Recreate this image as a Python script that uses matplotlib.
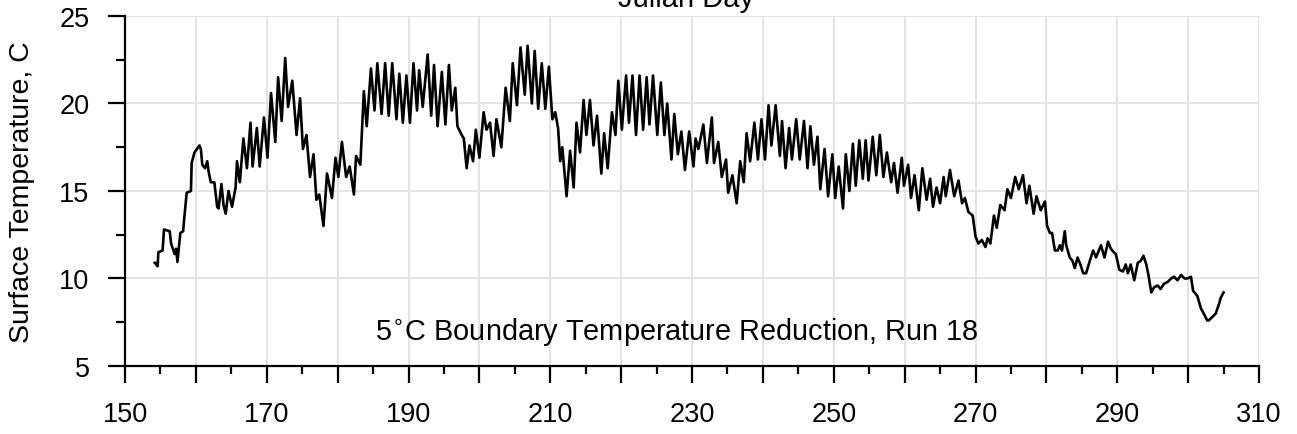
import matplotlib
matplotlib.use("Agg")
import matplotlib.pyplot as plt
from matplotlib.ticker import MultipleLocator, FixedLocator, FixedFormatter

plt.rcParams['font.family'] = ['Liberation Sans', 'DejaVu Sans']

# Surface temperature record (Julian day, deg C), diurnal highs and lows
julian_day = [
    154.2, 154.6, 154.7, 155.3, 155.5, 156.3, 156.5, 157.0, 157.2, 157.4,
    157.8, 158.2, 158.3, 158.7, 159.3, 159.4, 159.8, 160.5, 160.7, 160.9,
    161.3, 161.6, 161.8, 162.1, 162.6, 163.0, 163.2, 163.6, 163.9, 164.2,
    164.6, 165.1, 165.6, 165.8, 166.2, 166.7, 167.2, 167.7, 168.0, 168.6,
    169.0, 169.6, 170.1, 170.6, 171.2, 171.6, 172.1, 172.6, 173.0, 173.6,
    174.2, 174.7, 175.1, 175.6, 176.1, 176.6, 177.0, 177.4, 178.0, 178.5,
    179.2, 179.7, 180.1, 180.6, 181.2, 181.7, 182.3, 182.6, 183.2, 183.7,
    184.1, 184.7, 185.2, 185.6, 186.2, 186.7, 187.2, 187.7, 188.3, 188.7,
    189.2, 189.7, 190.2, 190.7, 191.2, 191.5, 192.0, 192.7, 193.2, 193.6,
    194.1, 194.7, 195.2, 195.7, 196.1, 196.6, 196.9, 197.5, 197.8, 198.2,
    198.6, 199.1, 199.5, 200.0, 200.6, 201.0, 201.5, 202.0, 202.4, 203.1,
    203.7, 204.3, 204.7, 205.3, 205.8, 206.4, 206.8, 207.4, 207.8, 208.3,
    208.8, 209.3, 209.8, 210.3, 210.7, 211.1, 211.4, 211.7, 212.3, 212.8,
    213.3, 213.7, 214.2, 214.7, 215.1, 215.6, 216.1, 216.6, 217.2, 217.6,
    218.1, 218.7, 219.2, 219.6, 220.1, 220.7, 221.1, 221.6, 222.1, 222.6,
    223.1, 223.6, 224.0, 224.5, 225.1, 225.6, 226.1, 226.5, 227.1, 227.5,
    228.0, 228.5, 229.0, 229.6, 230.2, 230.5, 230.9, 231.6, 232.1, 232.8,
    233.1, 233.7, 234.2, 234.8, 235.1, 235.7, 236.3, 236.8, 237.3, 237.7,
    238.2, 238.8, 239.3, 239.8, 240.3, 240.8, 241.2, 241.8, 242.4, 242.7,
    243.2, 243.7, 244.1, 244.7, 245.2, 245.8, 246.3, 246.7, 247.2, 247.7,
    248.1, 248.7, 249.2, 249.8, 250.2, 250.7, 251.3, 251.7, 252.2, 252.7,
    253.1, 253.6, 254.1, 254.5, 254.9, 255.5, 256.0, 256.5, 257.0, 257.5,
    258.1, 258.5, 259.0, 259.6, 259.9, 260.5, 260.9, 261.4, 262.0, 262.5,
    263.1, 263.6, 264.0, 264.5, 265.0, 265.5, 265.8, 266.4, 267.0, 267.6,
    268.1, 268.5, 269.0, 269.6, 270.0, 270.4, 270.9, 271.4, 271.7, 272.1,
    272.6, 273.0, 273.5, 274.1, 274.5, 275.0, 275.6, 276.1, 276.7, 277.2,
    277.6, 278.2, 278.6, 279.2, 279.8, 280.1, 280.5, 280.8, 281.2, 281.6,
    281.9, 282.2, 282.6, 282.8, 283.3, 283.7, 284.0, 284.4, 284.8, 285.2,
    285.6, 285.9, 286.2, 286.6, 287.0, 287.7, 288.2, 288.7, 289.1, 289.5,
    289.8, 290.3, 290.8, 291.2, 291.5, 291.9, 292.4, 292.9, 293.3, 293.7,
    294.1, 294.4, 294.8, 295.2, 295.7, 296.1, 296.6, 297.1, 297.6, 298.0,
    298.5, 299.0, 299.5, 299.9, 300.4, 300.7, 301.3, 301.8, 302.2, 302.7,
    302.9, 303.4, 303.9, 304.4, 304.6, 305.0,
]

surface_temp = [
    10.9, 10.7, 11.5, 11.6, 12.8, 12.7, 12.0, 11.4, 11.7, 10.95,
    12.6, 12.7, 13.2, 14.9, 15.0, 16.6, 17.2, 17.6, 17.4, 16.5,
    16.3, 16.7, 16.1, 15.5, 15.5, 14.1, 14.0, 15.4, 14.2, 13.7,
    15.0, 14.1, 15.2, 16.7, 15.5, 18.0, 16.3, 18.9, 16.4, 18.6,
    16.4, 19.2, 16.9, 20.6, 17.8, 21.5, 19.0, 22.6, 19.8, 21.3,
    18.2, 20.3, 17.4, 18.2, 15.8, 17.1, 14.5, 14.8, 13.0, 16.0,
    14.6, 16.9, 15.8, 17.8, 15.8, 16.4, 14.8, 17.0, 16.5, 20.7,
    18.7, 22.0, 19.6, 22.3, 19.4, 22.3, 19.3, 22.3, 19.1, 21.7,
    18.9, 21.6, 18.9, 22.3, 19.6, 21.9, 19.8, 22.8, 19.3, 22.2,
    18.7, 21.8, 18.8, 22.2, 19.6, 20.9, 18.7, 18.2, 18.0, 16.3,
    17.6, 16.7, 18.5, 16.9, 19.5, 18.5, 18.9, 17.0, 19.1, 17.5,
    20.9, 19.0, 22.3, 19.9, 23.2, 20.5, 23.3, 20.0, 23.0, 19.7,
    22.3, 19.7, 22.1, 19.1, 19.5, 18.6, 16.7, 17.5, 14.7, 17.3,
    15.2, 18.9, 17.2, 20.2, 18.2, 20.2, 17.6, 19.3, 16.0, 18.3,
    16.3, 19.5, 18.2, 21.3, 18.5, 21.6, 18.9, 21.6, 18.2, 21.6,
    18.5, 21.5, 18.8, 21.6, 18.2, 21.2, 18.2, 20.0, 16.8, 19.4,
    17.1, 18.4, 16.2, 18.4, 16.4, 18.0, 17.4, 18.8, 16.6, 19.2,
    16.6, 17.8, 15.8, 16.8, 14.9, 15.9, 14.3, 16.7, 15.5, 18.3,
    16.7, 18.9, 16.8, 19.1, 16.8, 19.9, 17.6, 19.9, 17.0, 19.0,
    16.3, 18.6, 16.8, 19.1, 16.8, 19.0, 16.3, 18.7, 16.5, 18.1,
    15.1, 17.4, 14.7, 17.1, 14.6, 16.4, 14.0, 17.1, 15.0, 17.7,
    15.3, 17.9, 15.7, 17.9, 15.6, 18.1, 15.9, 18.2, 15.8, 17.2,
    15.5, 16.6, 14.9, 16.9, 15.3, 16.5, 14.6, 15.9, 13.9, 16.3,
    14.5, 15.7, 14.1, 15.2, 14.3, 15.8, 14.7, 16.2, 14.7, 15.6,
    14.3, 14.6, 13.8, 13.6, 12.4, 12.0, 12.2, 11.8, 12.3, 12.0,
    13.6, 12.9, 14.2, 13.9, 15.1, 14.6, 15.8, 15.1, 15.9, 14.3,
    15.3, 13.7, 14.7, 13.9, 14.4, 13.0, 12.6, 12.6, 11.6, 11.6,
    11.9, 11.6, 12.7, 11.9, 11.2, 11.0, 10.6, 11.2, 10.8, 10.3,
    10.3, 10.7, 11.1, 11.6, 11.2, 11.9, 11.2, 12.1, 11.7, 11.5,
    11.4, 10.5, 10.4, 10.8, 10.3, 10.8, 9.9, 10.9, 11.0, 11.3,
    10.8, 10.2, 9.2, 9.5, 9.6, 9.4, 9.7, 9.8, 10.0, 10.1,
    9.9, 10.2, 10.0, 10.0, 10.1, 9.3, 9.0, 8.3, 8.0, 7.6,
    7.6, 7.8, 8.0, 8.6, 8.9, 9.2,
]

x_major_ticks = [150, 160, 170, 180, 190, 200, 210, 220, 230, 240,
                 250, 260, 270, 280, 290, 300, 310]
x_tick_labels = ['150', '', '170', '', '190', '', '210', '', '230', '',
                 '250', '', '270', '', '290', '', '310']
y_major_ticks = [5, 10, 15, 20, 25]
y_tick_labels = ['5', '10', '15', '20', '25']

fig = plt.figure(figsize=(12.97, 4.35), dpi=100)
ax = fig.add_axes([0.0964, 0.1563, 0.8743, 0.8047])

ax.plot(julian_day, surface_temp, color='black', linewidth=1.9, zorder=3)

ax.xaxis.set_major_locator(FixedLocator(x_major_ticks))
ax.xaxis.set_major_formatter(FixedFormatter(x_tick_labels))
ax.xaxis.set_minor_locator(MultipleLocator(5))
ax.yaxis.set_major_locator(FixedLocator(y_major_ticks))
ax.yaxis.set_major_formatter(FixedFormatter(y_tick_labels))
ax.yaxis.set_minor_locator(MultipleLocator(2.5))

ax.set_xlim(150, 310)
ax.set_ylim(5, 25)

ax.grid(True, which='major', color='#e3e3e3', linewidth=1.4, zorder=0)
ax.set_axisbelow(True)

for side in ('top', 'right'):
    ax.spines[side].set_visible(False)
for side in ('left', 'bottom'):
    ax.spines[side].set_linewidth(1.6)
    ax.spines[side].set_color('black')

ax.tick_params(axis='both', which='major', direction='out', length=12.5, width=1.6,
               labelsize=19.5, pad=13, colors='black')
ax.tick_params(axis='x', which='minor', direction='out', length=6, width=1.6)
ax.tick_params(axis='y', which='minor', direction='out', length=6.5, width=1.6)

ax.set_ylabel('Surface Temperature, C', fontsize=20.5)
ax.yaxis.set_label_coords(-0.079, 0.5)

fig.text(0.529, 0.984, 'Julian Day', fontsize=21, ha='center', va='baseline')

ax.text(227.8, 6.54, '5$^{\\circ}$C Boundary Temperature Reduction, Run 18',
        fontsize=20.8, ha='center', va='baseline')

fig.savefig('out.png', dpi=100)
